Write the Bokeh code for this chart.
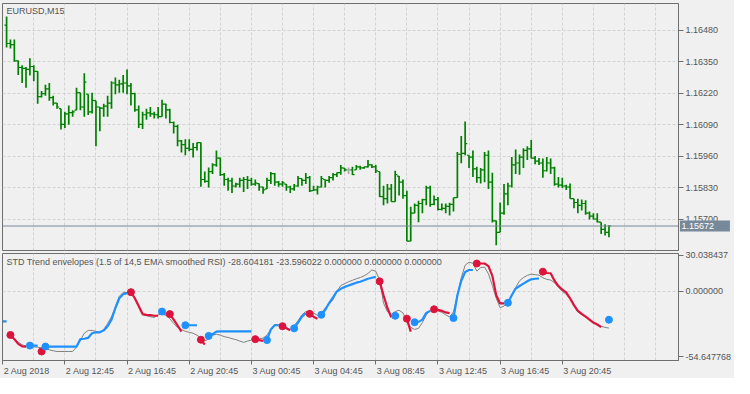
import math
from bokeh.plotting import figure
from bokeh.layouts import column
from bokeh.models import (Range1d, FixedTicker, Span, Label, ColumnDataSource,
                          PrintfTickFormatter)
from bokeh.core.properties import value
from bokeh.embed import file_html
from bokeh.resources import INLINE

nan = float("nan")

# ---------------- data ----------------
symbol_title = "EURUSD,M15"
indicator_title = ("STD Trend envelopes (1.5 of 14,5 EMA smoothed RSI) "
                   "-28.604181 -23.596022 0.000000 0.000000 0.000000")

opens = [
    1.16501, 1.16425, 1.16420, 1.16353, 1.16326, 1.16322, 1.16318, 1.16330, 1.16310, 1.16206,
    1.16218, 1.16238, 1.16202, 1.16179, 1.16156, 1.16091, 1.16135, 1.16140, 1.16150, 1.16222,
    1.16163, 1.16216, 1.16143, 1.16189, 1.16163, 1.16158, 1.16167, 1.16179, 1.16262, 1.16254,
    1.16258, 1.16262, 1.16250, 1.16218, 1.16151, 1.16091, 1.16131, 1.16139, 1.16135, 1.16131,
    1.16123, 1.16175, 1.16151, 1.16099, 1.16083, 1.16023, 1.16008, 1.15992, 1.15988, 1.15996,
    1.16016, 1.15864, 1.15856, 1.15896, 1.15924, 1.15952, 1.15884, 1.15864, 1.15858, 1.15837,
    1.15845, 1.15860, 1.15864, 1.15860, 1.15845, 1.15847, 1.15833, 1.15825, 1.15860, 1.15888,
    1.15853, 1.15845, 1.15845, 1.15833, 1.15825, 1.15837, 1.15868, 1.15860, 1.15872, 1.15818,
    1.15821, 1.15833, 1.15864, 1.15860, 1.15872, 1.15884, 1.15892, 1.15911, 1.15904, 1.15904,
    1.15904, 1.15916, 1.15912, 1.15916, 1.15924, 1.15916, 1.15897, 1.15793, 1.15785, 1.15825,
    1.15773, 1.15878, 1.15853, 1.15797, 1.15610, 1.15725, 1.15757, 1.15765, 1.15781, 1.15829,
    1.15761, 1.15781, 1.15741, 1.15745, 1.15753, 1.15761, 1.15789, 1.15968, 1.15972, 1.15964,
    1.15956, 1.15908, 1.15872, 1.15904, 1.15964, 1.15853, 1.15693, 1.15646, 1.15725, 1.15805,
    1.15837, 1.15924, 1.15932, 1.15956, 1.15984, 1.15990, 1.15952, 1.15940, 1.15932, 1.15900,
    1.15932, 1.15912, 1.15845, 1.15841, 1.15837, 1.15833, 1.15785, 1.15769, 1.15757, 1.15765,
    1.15725, 1.15713, 1.15701, 1.15688, 1.15658, 1.15646,
]
highs = [
    1.16536, 1.16441, 1.16441, 1.16355, 1.16335, 1.16328, 1.16364, 1.16335, 1.16311, 1.16229,
    1.16255, 1.16262, 1.16209, 1.16179, 1.16156, 1.16143, 1.16169, 1.16150, 1.16242, 1.16222,
    1.16302, 1.16216, 1.16222, 1.16189, 1.16163, 1.16176, 1.16209, 1.16269, 1.16285, 1.16275,
    1.16295, 1.16318, 1.16262, 1.16222, 1.16169, 1.16143, 1.16156, 1.16163, 1.16143, 1.16163,
    1.16193, 1.16176, 1.16156, 1.16103, 1.16090, 1.16027, 1.16030, 1.16030, 1.16014, 1.16017,
    1.16017, 1.15897, 1.15913, 1.15931, 1.15984, 1.15955, 1.15891, 1.15871, 1.15871, 1.15851,
    1.15871, 1.15874, 1.15878, 1.15871, 1.15864, 1.15847, 1.15834, 1.15871, 1.15895, 1.15891,
    1.15858, 1.15858, 1.15845, 1.15838, 1.15845, 1.15878, 1.15868, 1.15891, 1.15878, 1.15838,
    1.15838, 1.15878, 1.15864, 1.15878, 1.15891, 1.15893, 1.15924, 1.15911, 1.15913, 1.15917,
    1.15924, 1.15921, 1.15917, 1.15944, 1.15927, 1.15924, 1.15897, 1.15838, 1.15845, 1.15845,
    1.15900, 1.15878, 1.15864, 1.15818, 1.15752, 1.15765, 1.15776, 1.15785, 1.15838, 1.15838,
    1.15798, 1.15792, 1.15765, 1.15765, 1.15768, 1.15789, 1.15977, 1.16043, 1.16103, 1.15964,
    1.15984, 1.15917, 1.15911, 1.15977, 1.15984, 1.15892, 1.15695, 1.15769, 1.15845, 1.15851,
    1.15957, 1.15988, 1.15967, 1.15993, 1.16001, 1.16027, 1.15961, 1.15953, 1.15951, 1.15957,
    1.15951, 1.15917, 1.15874, 1.15871, 1.15842, 1.15847, 1.15785, 1.15785, 1.15781, 1.15778,
    1.15732, 1.15725, 1.15725, 1.15688, 1.15679, 1.15675,
]
lows = [
    1.16408, 1.16404, 1.16350, 1.16295, 1.16262, 1.16242, 1.16293, 1.16269, 1.16176, 1.16202,
    1.16209, 1.16189, 1.16169, 1.16156, 1.16070, 1.16076, 1.16090, 1.16123, 1.16150, 1.16150,
    1.16123, 1.16130, 1.16136, 1.16001, 1.16063, 1.16123, 1.16123, 1.16156, 1.16216, 1.16222,
    1.16222, 1.16216, 1.16169, 1.16143, 1.16076, 1.16072, 1.16110, 1.16123, 1.16116, 1.16116,
    1.16123, 1.16116, 1.16096, 1.16054, 1.16001, 1.15975, 1.15964, 1.15980, 1.15955, 1.15984,
    1.15834, 1.15851, 1.15831, 1.15887, 1.15917, 1.15878, 1.15838, 1.15818, 1.15808, 1.15831,
    1.15831, 1.15812, 1.15825, 1.15838, 1.15838, 1.15818, 1.15805, 1.15825, 1.15845, 1.15838,
    1.15834, 1.15834, 1.15818, 1.15808, 1.15818, 1.15834, 1.15838, 1.15845, 1.15812, 1.15818,
    1.15802, 1.15831, 1.15831, 1.15851, 1.15860, 1.15874, 1.15884, 1.15897, 1.15887, 1.15882,
    1.15904, 1.15904, 1.15908, 1.15913, 1.15911, 1.15891, 1.15792, 1.15758, 1.15765, 1.15772,
    1.15772, 1.15798, 1.15785, 1.15609, 1.15609, 1.15725, 1.15688, 1.15725, 1.15758, 1.15752,
    1.15758, 1.15736, 1.15736, 1.15725, 1.15715, 1.15732, 1.15789, 1.15931, 1.15964, 1.15911,
    1.15874, 1.15851, 1.15847, 1.15853, 1.15825, 1.15686, 1.15593, 1.15646, 1.15719, 1.15758,
    1.15831, 1.15887, 1.15884, 1.15911, 1.15944, 1.15951, 1.15927, 1.15924, 1.15871, 1.15897,
    1.15887, 1.15838, 1.15831, 1.15829, 1.15821, 1.15785, 1.15745, 1.15725, 1.15736, 1.15719,
    1.15699, 1.15699, 1.15686, 1.15639, 1.15633, 1.15626,
]
closes = [
    1.16425, 1.16420, 1.16353, 1.16326, 1.16322, 1.16318, 1.16330, 1.16310, 1.16206, 1.16218,
    1.16238, 1.16202, 1.16179, 1.16163, 1.16091, 1.16135, 1.16140, 1.16143, 1.16222, 1.16163,
    1.16266, 1.16143, 1.16190, 1.16163, 1.16158, 1.16167, 1.16179, 1.16262, 1.16254, 1.16258,
    1.16262, 1.16250, 1.16218, 1.16151, 1.16091, 1.16131, 1.16139, 1.16135, 1.16131, 1.16123,
    1.16175, 1.16151, 1.16099, 1.16083, 1.16023, 1.16008, 1.15992, 1.15988, 1.15996, 1.16016,
    1.15864, 1.15856, 1.15896, 1.15924, 1.15952, 1.15884, 1.15864, 1.15858, 1.15837, 1.15845,
    1.15860, 1.15864, 1.15860, 1.15845, 1.15849, 1.15833, 1.15821, 1.15860, 1.15888, 1.15853,
    1.15845, 1.15850, 1.15833, 1.15825, 1.15837, 1.15868, 1.15860, 1.15872, 1.15817, 1.15821,
    1.15833, 1.15868, 1.15860, 1.15872, 1.15884, 1.15892, 1.15912, 1.15904, 1.15904, 1.15884,
    1.15916, 1.15912, 1.15916, 1.15924, 1.15916, 1.15900, 1.15793, 1.15785, 1.15825, 1.15773,
    1.15884, 1.15853, 1.15797, 1.15610, 1.15725, 1.15757, 1.15765, 1.15781, 1.15829, 1.15761,
    1.15781, 1.15741, 1.15745, 1.15753, 1.15761, 1.15789, 1.15968, 1.15972, 1.16012, 1.15956,
    1.15908, 1.15872, 1.15904, 1.15964, 1.15853, 1.15693, 1.15646, 1.15725, 1.15805, 1.15837,
    1.15924, 1.15932, 1.15956, 1.15984, 1.15990, 1.15952, 1.15940, 1.15932, 1.15900, 1.15932,
    1.15912, 1.15845, 1.15841, 1.15837, 1.15833, 1.15785, 1.15769, 1.15757, 1.15765, 1.15725,
    1.15713, 1.15701, 1.15689, 1.15658, 1.15646, 1.15672,
]
bar_index = list(range(len(closes)))
last_price = 1.15672
last_price_text = "1.15672"

price_ticks = [1.15700, 1.15830, 1.15960, 1.16090, 1.16220, 1.16350, 1.16480]

time_tick_index = [-1, 15, 31, 47, 63, 79, 95, 111, 127, 143]
time_tick_labels = ["2 Aug 2018", "2 Aug 12:45", "2 Aug 16:45", "2 Aug 20:45",
                    "3 Aug 00:45", "3 Aug 04:45", "3 Aug 08:45", "3 Aug 12:45",
                    "3 Aug 16:45", "3 Aug 20:45"]

ind_index = list(range(-1, 156))
rsi_line = [
    nan, -37.1, -38.1, -39.8, -42.2, -44.6, -45.5, -45.9, -46.3, -46.5,
    -47.1, -47.9, -48.7, -49.5, -50.1, -50.1, -50.1, -50.1, -50.1, -46.3,
    -40.6, -34.9, -32.5, -32.5, -33.3, -34.1, -31.7, -26.8, -21.1, -13.0,
    -4.1, -0.8, -0.8, 0.0, -5.7, -13.0, -19.5, -20.3, -21.1, -21.7,
    -19.5, -18.9, -20.0, -22.7, -26.8, -30.0, -31.7, -33.3, -34.1, -34.9,
    -36.5, -39.0, -41.2, -39.8, -36.5, -35.7, -36.5, -37.7, -38.4, -39.4,
    -40.2, -41.4, -42.5, -41.4, -40.6, -39.8, -39.4, -39.0, -36.5, -31.7,
    -27.6, -27.6, -28.4, -30.0, -31.7, -28.4, -24.4, -19.5, -16.8, -16.8,
    -17.9, -20.0, -18.1, -13.8, -10.6, -6.9, 0.0, 4.9, 6.5, 8.1,
    9.3, 10.6, 11.6, 13.0, 15.0, 17.9, 16.8, 9.7, -9.7, -17.0,
    -19.1, -16.8, -15.7, -17.9, -25.2, -30.0, -31.7, -30.8, -26.0, -19.5,
    -16.2, -15.4, -16.2, -17.5, -19.5, -21.3, -17.0, -3.2, 11.4, 21.9,
    24.4, 23.5, 17.0, 19.9, 20.3, 14.6, 4.9, -5.7, -13.6, -12.2,
    -8.9, -3.2, 3.2, 8.9, 11.6, 13.4, 14.4, 14.0, 13.6, 11.4,
    10.1, 9.5, 7.3, 3.5, 0.0, -2.4, -6.5, -12.2, -17.0, -19.5,
    -21.1, -23.8, -26.0, -27.6, -29.0, -30.0, -30.6,
]
env_line = [
    -24.9, -24.9, -36.3, -39.8, -43.8, -45.9, -46.0, -45.2, -45.2, -45.2,
    -50.1, -46.0, -46.0, -46.0, -46.0, -46.0, -46.0, -46.0, -46.0, -46.0,
    -39.8, -39.5, -38.7, -34.9, -34.1, -34.1, -32.5, -29.0, -23.5, -13.8,
    -5.7, -2.4, -1.4, -0.6, -5.7, -12.2, -18.9, -19.5, -19.7, -20.3,
    -20.3, -16.8, -18.9, -18.9, -23.5, -28.4, -33.5, -28.2, -28.2, -28.2,
    -28.2, -40.3, -44.4, -37.1, -35.7, -33.5, -33.3, -33.3, -33.3, -33.3,
    -33.3, -33.3, -33.3, -33.3, -33.3, -39.8, -40.6, -41.2, -40.6, -31.7,
    -28.2, -28.2, -29.0, -30.8, -32.5, -30.8, -26.0, -21.1, -18.1, -18.7,
    -21.1, -22.7, -19.5, -15.4, -9.7, -4.9, 0.0, 2.2, 3.7, 4.9,
    6.1, 7.3, 8.1, 9.3, 10.6, 11.4, 12.2, 8.4, -3.2, -13.8,
    -21.7, -20.3, -20.0, nan, -22.7, -33.5, -25.7, -25.4, -23.5, -17.9,
    -16.2, -14.9, -15.4, -16.2, -17.5, -18.1, -22.2, -3.2, 8.9, 16.2,
    17.9, 17.9, 23.3, 23.3, 23.3, 21.1, 13.0, -3.2, -10.0, -10.0,
    -9.5, -3.2, 2.4, 4.5, 6.5, 8.5, 10.1, 10.6, 10.8, 16.5,
    15.4, 15.2, 8.9, 4.5, 1.6, -0.8, -5.7, -11.4, -16.2, -18.7,
    -21.1, -23.5, -26.0, -27.6, -29.8, nan, -23.6,
]
# 1 = up (blue), -1 = down (red), 0 = no value
env_trend = [
    1, 1, -1, -1, -1, -1, -1, 1, 1, 1,
    -1, 1, 1, 1, 1, 1, 1, 1, 1, 1,
    1, 1, 1, 1, 1, 1, 1, 1, 1, 1,
    1, 1, 1, -1, -1, -1, -1, -1, -1, -1,
    -1, 1, 1, -1, -1, -1, -1, 1, 1, 1,
    1, -1, -1, 1, 1, 1, 1, 1, 1, 1,
    1, 1, 1, 1, 1, -1, -1, -1, 1, 1,
    1, 1, -1, -1, -1, 1, 1, 1, 1, -1,
    -1, -1, 1, 1, 1, 1, 1, 1, 1, 1,
    1, 1, 1, 1, 1, 1, 1, -1, -1, -1,
    -1, 1, 1, 0, -1, -1, 1, 1, 1, 1,
    1, -1, -1, -1, -1, -1, 1, 1, 1, 1,
    1, 1, -1, -1, -1, -1, -1, -1, -1, -1,
    1, 1, 1, 1, 1, 1, 1, 1, 1, -1,
    -1, -1, -1, -1, -1, -1, -1, -1, -1, -1,
    -1, -1, -1, -1, -1, 0, 1,
]
ind_ticks = [30.038437, 0.0, -54.647768]

# ---------------- style ----------------
BG = "#F0F0F0"
FRAME = "#6E6E6E"
GRID = "#D2D2D2"
TXT = "#555555"
FONT = "Liberation Sans"
FS = "9px"
BAR_GREEN = "#008000"
DOJI_GRAY = "#A8A8A8"
UP_BLUE = "#1E90FF"
DN_RED = "#DC143C"
PRICE_BOX = "#778899"

W = 734
BORDER_L, BORDER_R = 2, 54
x_range = Range1d(-1.05, 172.9)
grid_ticks = list(range(7, 173, 8))
px_per_bar = (W - BORDER_L - BORDER_R) / (x_range.end - x_range.start)


def style_common(p):
    p.outline_line_color = FRAME
    p.outline_line_width = 1
    for g in p.xgrid:
        g.ticker = FixedTicker(ticks=grid_ticks)
    p.grid.grid_line_color = GRID
    p.grid.grid_line_dash = "3 2"
    p.grid.grid_line_width = 1
    ax = p.yaxis[0]
    ax.axis_line_color = FRAME
    ax.major_tick_line_color = FRAME
    ax.major_tick_out = 5
    ax.major_tick_in = 0
    ax.minor_tick_line_color = None
    ax.major_label_standoff = 2
    ax.major_label_text_font = FONT
    ax.major_label_text_font_size = FS
    ax.major_label_text_color = TXT


# ---- price pane ----
price_lo, price_hi = 1.15571, 1.16590
p1 = figure(width=W, height=251, x_range=x_range, y_range=Range1d(price_lo, price_hi),
            output_backend="svg", toolbar_location=None,
            x_axis_location=None, y_axis_location="right",
            min_border_left=BORDER_L, min_border_right=BORDER_R,
            min_border_top=3, min_border_bottom=1,
            background_fill_color=BG, border_fill_color=BG)
style_common(p1)
p1.yaxis.ticker = FixedTicker(ticks=price_ticks)
p1.yaxis.formatter = PrintfTickFormatter(format="%.5f")

bar_colors = [DOJI_GRAY if o == c else BAR_GREEN for o, c in zip(opens, closes)]
src = ColumnDataSource(dict(
    x=bar_index, o=opens, h=highs, l=lows, c=closes, col=bar_colors,
    xl=[i - 0.55 for i in bar_index], xr=[i + 0.55 for i in bar_index]))
p1.segment(x0="x", y0="l", x1="x", y1="h", line_color="col", line_width=1.7, source=src)
p1.segment(x0="xl", y0="o", x1="x", y1="o", line_color="col", line_width=1.2, source=src)
p1.segment(x0="x", y0="c", x1="xr", y1="c", line_color="col", line_width=1.2, source=src)

p1.add_layout(Span(location=last_price, dimension="width", line_color=PRICE_BOX, line_width=1))

# current price box on the price scale (drawn at overlay level, outside the frame)
box_w, box_gap = 50, 1.5
p1.rect(x=[x_range.end + (box_gap + box_w / 2) / px_per_bar], y=[last_price],
        width=box_w, height=11, width_units="screen", height_units="screen",
        fill_color=PRICE_BOX, line_color=None, level="overlay")
p1.text(x=[x_range.end], y=[last_price], text=[last_price_text], x_offset=3,
        text_font=value(FONT), text_font_size=FS, text_color="white",
        text_align="left", text_baseline="middle", level="overlay")

p1.add_layout(Label(x=x_range.start, y=price_hi, x_offset=4, y_offset=-2, text=symbol_title,
                    text_font=FONT, text_font_size=FS, text_color=TXT,
                    text_align="left", text_baseline="top"))

# ---- indicator pane ----
ind_lo, ind_hi = -57.63, 31.66
p2 = figure(width=W, height=127, x_range=x_range, y_range=Range1d(ind_lo, ind_hi),
            output_backend="svg", toolbar_location=None,
            x_axis_location="below", y_axis_location="right",
            min_border_left=BORDER_L, min_border_right=BORDER_R,
            min_border_top=2, min_border_bottom=18,
            background_fill_color=BG, border_fill_color=BG)
style_common(p2)
p2.yaxis.ticker = FixedTicker(ticks=ind_ticks)
p2.yaxis.formatter = PrintfTickFormatter(format="%.6f")
p2.ygrid.ticker = FixedTicker(ticks=[0.0])

xa = p2.xaxis[0]
xa.ticker = FixedTicker(ticks=time_tick_index)
xa.axis_line_color = FRAME
xa.major_tick_line_color = FRAME
xa.major_tick_out = 4
xa.major_tick_in = 0
xa.minor_tick_line_color = None
xa.major_label_text_alpha = 0
xa.major_label_text_font_size = FS

# MT4 draws the time labels starting at their tick
p2.text(x=time_tick_index, y=[ind_lo] * len(time_tick_index), text=time_tick_labels,
        x_offset=1, y_offset=5,
        text_font=value(FONT), text_font_size=FS, text_color=TXT,
        text_align="left", text_baseline="top", level="overlay")

p2.line(ind_index, rsi_line, line_color="#808080", line_width=1)

runs_x, runs_y, runs_c = [], [], []
dot_x, dot_y, dot_c = [], [], []
prev_t = None
cur = None
for xi, v, t in zip(ind_index, env_line, env_trend):
    if t == 0 or math.isnan(v):
        cur = None
        continue
    col = UP_BLUE if t > 0 else DN_RED
    if prev_t is not None and t != prev_t:
        dot_x.append(xi); dot_y.append(v); dot_c.append(col)
    if cur is None or cur != t:
        runs_x.append([xi]); runs_y.append([v]); runs_c.append(col)
        cur = t
    else:
        runs_x[-1].append(xi); runs_y[-1].append(v)
    prev_t = t

p2.multi_line(runs_x, runs_y, line_color=runs_c, line_width=2.2)
p2.scatter(dot_x, dot_y, size=7, fill_color=dot_c, line_color=dot_c)

p2.add_layout(Label(x=x_range.start, y=ind_hi, x_offset=4, y_offset=-3, text=indicator_title,
                    text_font=FONT, text_font_size=FS, text_color=TXT,
                    text_align="left", text_baseline="top"))

layout = column(p1, p2, spacing=0, styles={"background-color": BG})
open("out.html", "w").write(file_html(layout, INLINE))
